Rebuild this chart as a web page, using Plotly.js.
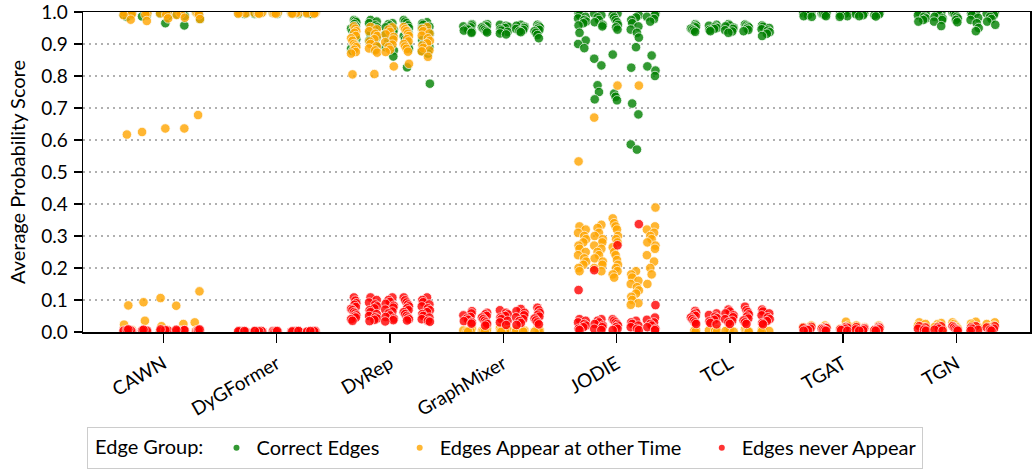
<!DOCTYPE html>
<html>
<head>
<meta charset="utf-8">
<script src="https://cdn.plot.ly/plotly-3.0.1.min.js"></script>
<style>html,body{margin:0;padding:0;background:#fff;}#chart{width:1033px;height:471px;}</style>
</head>
<body>
<div id="chart"></div>
<script>
// ---------------- DATA ----------------
const models = ["CAWN", "DyGFormer", "DyRep", "GraphMixer", "JODIE", "TCL", "TGAT", "TGN"];
const groupNames = ["Correct Edges", "Edges Appear at other Time", "Edges never Appear"];

// each model: 5 sub-groups (runs) of average probability scores
const CAWN_correct = [
  [0.998, 0.996, 0.994, 0.992, 0.99, 0.985],
  [0.998, 0.996, 0.993, 0.99, 0.986],
  [0.998, 0.995, 0.992, 0.988, 0.965],
  [0.998, 0.995, 0.992, 0.988, 0.958],
  [0.998, 0.995, 0.99, 0.978]
];
const CAWN_appear = [
  [0.999, 0.996, 0.993, 0.99, 0.976, 0.617, 0.083, 0.023, 0.006, 0.003],
  [0.999, 0.996, 0.992, 0.972, 0.625, 0.093, 0.035, 0.005, 0.002],
  [0.999, 0.996, 0.992, 0.98, 0.636, 0.106, 0.018, 0.006, 0.002],
  [0.999, 0.995, 0.991, 0.982, 0.636, 0.082, 0.025, 0.005, 0.002],
  [0.999, 0.995, 0.992, 0.978, 0.678, 0.127, 0.03, 0.005, 0.002]
];
const CAWN_never = [
  [0.001, 0.002, 0.003, 0.004, 0.005, 0.006, 0.008],
  [0.001, 0.002, 0.003, 0.004, 0.005, 0.007],
  [0.001, 0.002, 0.003, 0.004, 0.006, 0.008],
  [0.001, 0.002, 0.003, 0.005, 0.006, 0.007],
  [0.001, 0.002, 0.003, 0.004, 0.006, 0.008]
];

const DyGFormer_correct = [
  [0.999, 0.998, 0.997, 0.996, 0.995, 0.994],
  [0.999, 0.998, 0.997, 0.996, 0.995, 0.994],
  [0.999, 0.998, 0.997, 0.996, 0.995, 0.994],
  [0.999, 0.998, 0.997, 0.996, 0.995, 0.994],
  [0.999, 0.998, 0.997, 0.996, 0.995, 0.994]
];
const DyGFormer_appear = [
  [0.999, 0.998, 0.997, 0.996, 0.995],
  [0.999, 0.998, 0.997, 0.996, 0.995],
  [0.999, 0.998, 0.997, 0.996, 0.995],
  [0.999, 0.998, 0.997, 0.996, 0.995],
  [0.999, 0.998, 0.997, 0.996, 0.995]
];
const DyGFormer_never = [
  [0.001, 0.002, 0.003, 0.001, 0.002, 0.003],
  [0.001, 0.002, 0.003, 0.001, 0.002, 0.003],
  [0.001, 0.002, 0.003, 0.001, 0.002, 0.003],
  [0.001, 0.002, 0.003, 0.001, 0.002, 0.003],
  [0.001, 0.002, 0.003, 0.001, 0.002, 0.003]
];

const DyRep_correct = [
  [0.975, 0.972, 0.968, 0.962, 0.955, 0.948, 0.94, 0.932, 0.925, 0.915, 0.905, 0.895, 0.885, 0.878],
  [0.975, 0.97, 0.965, 0.958, 0.952, 0.945, 0.938, 0.93, 0.92, 0.91, 0.9, 0.89, 0.882],
  [0.965, 0.962, 0.958, 0.952, 0.945, 0.938, 0.93, 0.92, 0.91, 0.9, 0.89, 0.88, 0.861],
  [0.975, 0.97, 0.965, 0.958, 0.95, 0.942, 0.935, 0.925, 0.915, 0.905, 0.895, 0.885, 0.827],
  [0.968, 0.964, 0.96, 0.954, 0.948, 0.94, 0.932, 0.922, 0.912, 0.9, 0.89, 0.878, 0.87, 0.776]
];
const DyRep_appear = [
  [0.955, 0.948, 0.94, 0.935, 0.925, 0.918, 0.91, 0.9, 0.895, 0.89, 0.882, 0.875, 0.87, 0.805],
  [0.953, 0.946, 0.94, 0.932, 0.925, 0.915, 0.908, 0.9, 0.893, 0.886, 0.88, 0.873, 0.806],
  [0.952, 0.945, 0.938, 0.93, 0.922, 0.914, 0.906, 0.898, 0.89, 0.882, 0.875, 0.83],
  [0.953, 0.946, 0.94, 0.932, 0.925, 0.915, 0.908, 0.9, 0.892, 0.885, 0.876, 0.838],
  [0.953, 0.947, 0.94, 0.933, 0.926, 0.918, 0.91, 0.902, 0.895, 0.888, 0.88, 0.877, 0.86]
];
const DyRep_never = [
  [0.108, 0.098, 0.09, 0.085, 0.078, 0.072, 0.068, 0.062, 0.058, 0.052, 0.048, 0.045, 0.04, 0.035],
  [0.108, 0.1, 0.092, 0.086, 0.08, 0.074, 0.068, 0.062, 0.056, 0.05, 0.046, 0.042, 0.038, 0.034],
  [0.108, 0.1, 0.094, 0.088, 0.082, 0.076, 0.07, 0.064, 0.058, 0.052, 0.047, 0.042, 0.037, 0.033],
  [0.108, 0.099, 0.092, 0.086, 0.08, 0.074, 0.068, 0.062, 0.056, 0.05, 0.045, 0.04, 0.036],
  [0.108, 0.1, 0.093, 0.086, 0.08, 0.074, 0.068, 0.062, 0.056, 0.05, 0.045, 0.04, 0.035, 0.032]
];

const GraphMixer_correct = [
  [0.962, 0.958, 0.955, 0.952, 0.948, 0.945, 0.942, 0.938, 0.935],
  [0.962, 0.958, 0.955, 0.952, 0.948, 0.944, 0.94, 0.936],
  [0.96, 0.957, 0.954, 0.95, 0.946, 0.942, 0.938, 0.933, 0.93],
  [0.96, 0.957, 0.954, 0.95, 0.947, 0.944, 0.94, 0.937],
  [0.96, 0.956, 0.952, 0.948, 0.944, 0.94, 0.935, 0.928, 0.918]
];
const GraphMixer_appear = [
  [0.012, 0.008, 0.005, 0.003, 0.002, 0.001],
  [0.01, 0.008, 0.005, 0.003, 0.002, 0.001],
  [0.012, 0.009, 0.006, 0.003, 0.002, 0.001],
  [0.011, 0.008, 0.005, 0.003, 0.002, 0.001],
  [0.012, 0.008, 0.005, 0.003, 0.002, 0.001]
];
const GraphMixer_never = [
  [0.065, 0.058, 0.052, 0.047, 0.042, 0.038, 0.034, 0.03, 0.026],
  [0.06, 0.055, 0.05, 0.045, 0.04, 0.035, 0.03, 0.025, 0.02],
  [0.068, 0.06, 0.055, 0.05, 0.045, 0.04, 0.035, 0.03, 0.022],
  [0.072, 0.065, 0.06, 0.052, 0.046, 0.04, 0.034, 0.028, 0.022],
  [0.076, 0.068, 0.06, 0.054, 0.048, 0.042, 0.036, 0.03, 0.024]
];

const JODIE_correct = [
  [0.995, 0.99, 0.985, 0.98, 0.975, 0.97, 0.965, 0.958, 0.935, 0.911, 0.9, 0.887],
  [0.995, 0.99, 0.983, 0.975, 0.968, 0.96, 0.955, 0.854, 0.833, 0.771, 0.75, 0.727],
  [0.995, 0.99, 0.983, 0.975, 0.968, 0.96, 0.952, 0.945, 0.867, 0.745, 0.735, 0.724],
  [0.99, 0.983, 0.975, 0.965, 0.955, 0.945, 0.935, 0.92, 0.89, 0.826, 0.714, 0.68, 0.586, 0.57],
  [0.995, 0.99, 0.985, 0.978, 0.97, 0.864, 0.83, 0.817, 0.8]
];
const JODIE_appear = [
  [0.533, 0.33, 0.32, 0.31, 0.3, 0.29, 0.28, 0.27, 0.26, 0.25, 0.24, 0.23, 0.22, 0.21, 0.2, 0.19],
  [0.67, 0.335, 0.325, 0.31, 0.3, 0.29, 0.28, 0.27, 0.26, 0.25, 0.24, 0.23, 0.22, 0.21, 0.2, 0.19],
  [0.77, 0.355, 0.34, 0.33, 0.32, 0.3, 0.29, 0.28, 0.265, 0.25, 0.24, 0.225, 0.21, 0.2, 0.19, 0.18, 0.17],
  [0.77, 0.19, 0.18, 0.17, 0.16, 0.15, 0.14, 0.13, 0.12, 0.11, 0.1, 0.09, 0.085],
  [0.389, 0.33, 0.32, 0.31, 0.3, 0.29, 0.28, 0.27, 0.26, 0.24, 0.22, 0.2, 0.18, 0.15]
];
const JODIE_never = [
  [0.131, 0.04, 0.035, 0.03, 0.025, 0.02, 0.015, 0.01, 0.006],
  [0.193, 0.04, 0.035, 0.03, 0.025, 0.02, 0.015, 0.01, 0.006],
  [0.271, 0.04, 0.035, 0.03, 0.025, 0.02, 0.015, 0.01, 0.006],
  [0.337, 0.035, 0.03, 0.025, 0.02, 0.015, 0.01, 0.006],
  [0.084, 0.045, 0.038, 0.03, 0.025, 0.02, 0.015, 0.01, 0.006]
];

const TCL_correct = [
  [0.962, 0.958, 0.955, 0.952, 0.948, 0.945, 0.942, 0.938],
  [0.96, 0.957, 0.954, 0.95, 0.947, 0.944, 0.94],
  [0.962, 0.958, 0.955, 0.951, 0.947, 0.943, 0.939, 0.935],
  [0.961, 0.958, 0.955, 0.952, 0.948, 0.944, 0.94],
  [0.958, 0.954, 0.95, 0.946, 0.942, 0.937, 0.932, 0.925]
];
const TCL_appear = [
  [0.008, 0.005, 0.003, 0.001],
  [0.008, 0.005, 0.003, 0.001],
  [0.008, 0.005, 0.003, 0.001],
  [0.008, 0.005, 0.003, 0.001],
  [0.008, 0.005, 0.003, 0.001]
];
const TCL_never = [
  [0.066, 0.06, 0.055, 0.05, 0.045, 0.04, 0.035, 0.03, 0.025],
  [0.058, 0.053, 0.048, 0.043, 0.038, 0.033, 0.028, 0.024],
  [0.07, 0.064, 0.058, 0.052, 0.046, 0.04, 0.035, 0.03, 0.025],
  [0.079, 0.068, 0.062, 0.055, 0.048, 0.042, 0.036, 0.03, 0.025],
  [0.07, 0.064, 0.058, 0.052, 0.046, 0.04, 0.034, 0.028, 0.024]
];

const TGAT_correct = [
  [0.999, 0.997, 0.995, 0.993, 0.99, 0.987, 0.985],
  [0.999, 0.997, 0.995, 0.993, 0.99, 0.987],
  [0.999, 0.997, 0.995, 0.993, 0.99, 0.987, 0.985],
  [0.999, 0.997, 0.995, 0.993, 0.99, 0.987],
  [0.999, 0.997, 0.995, 0.993, 0.99, 0.986]
];
const TGAT_appear = [
  [0.02, 0.015, 0.012, 0.008, 0.005],
  [0.02, 0.015, 0.012, 0.008, 0.005],
  [0.032, 0.02, 0.015, 0.01, 0.005],
  [0.02, 0.015, 0.012, 0.008, 0.005],
  [0.02, 0.015, 0.012, 0.008, 0.005]
];
const TGAT_never = [
  [0.016, 0.013, 0.01, 0.008, 0.006, 0.004],
  [0.014, 0.012, 0.01, 0.008, 0.006, 0.004],
  [0.016, 0.013, 0.01, 0.008, 0.006, 0.004],
  [0.015, 0.012, 0.01, 0.008, 0.006, 0.004],
  [0.016, 0.013, 0.01, 0.008, 0.006, 0.004]
];

const TGN_correct = [
  [0.998, 0.995, 0.99, 0.985, 0.98, 0.975, 0.97],
  [0.998, 0.995, 0.99, 0.985, 0.98, 0.975, 0.97, 0.956],
  [0.998, 0.995, 0.99, 0.985, 0.98, 0.975, 0.968],
  [0.998, 0.995, 0.99, 0.982, 0.975, 0.965, 0.95, 0.94],
  [0.998, 0.995, 0.99, 0.985, 0.978, 0.97, 0.96]
];
const TGN_appear = [
  [0.03, 0.025, 0.02, 0.015, 0.01],
  [0.028, 0.024, 0.02, 0.015, 0.01],
  [0.03, 0.025, 0.02, 0.015, 0.01],
  [0.032, 0.026, 0.02, 0.015, 0.01],
  [0.03, 0.025, 0.02, 0.015, 0.01]
];
const TGN_never = [
  [0.018, 0.014, 0.01, 0.007, 0.004],
  [0.018, 0.014, 0.01, 0.007, 0.004],
  [0.018, 0.014, 0.01, 0.007, 0.004],
  [0.018, 0.014, 0.01, 0.007, 0.004],
  [0.018, 0.014, 0.01, 0.007, 0.004]
];

const correctEdges = [CAWN_correct, DyGFormer_correct, DyRep_correct, GraphMixer_correct, JODIE_correct, TCL_correct, TGAT_correct, TGN_correct];
const appearEdges  = [CAWN_appear, DyGFormer_appear, DyRep_appear, GraphMixer_appear, JODIE_appear, TCL_appear, TGAT_appear, TGN_appear];
const neverEdges   = [CAWN_never, DyGFormer_never, DyRep_never, GraphMixer_never, JODIE_never, TCL_never, TGAT_never, TGN_never];

// ---------------- STYLE / LAYOUT ----------------
const groupColors = ["#008000", "#FFA500", "#FF0000"];
const subOffsets = [-0.31, -0.155, 0, 0.155, 0.31];       // dodge position of the 5 sub-groups
const jitterPattern = [-0.9, 0.4, -0.2, 0.8, -0.6, 0.1, 0.7, -0.4, 0.3, -1.0, 0.9, -0.1, 0.5, -0.7, 0.2, -0.3, 0.6, -0.8, 0.0, 1.0, -0.5];
const jitterWidth = 0.042;
const FONT = "Lato, 'Open Sans', sans-serif";
const NB = "\u00a0";

function buildTrace(groupData, gi) {
  const xs = [], ys = [];
  groupData.forEach((subs, mi) => {
    subs.forEach((vals, si) => {
      vals.forEach((v, k) => {
        xs.push(mi + subOffsets[si] + jitterPattern[(k * 3 + si * 5 + mi) % jitterPattern.length] * jitterWidth);
        ys.push(v);
      });
    });
  });
  return {
    type: "scatter", mode: "markers", x: xs, y: ys, name: groupNames[gi],
    showlegend: false, cliponaxis: true, hoverinfo: "y",
    marker: { size: 9.5, color: groupColors[gi], opacity: 0.8, line: { color: "#ffffff", width: 0.8 } }
  };
}

const traces = [buildTrace(correctEdges, 0), buildTrace(appearEdges, 1), buildTrace(neverEdges, 2)];
// legend entries
groupNames.forEach((n, gi) => {
  traces.push({
    type: "scatter", mode: "markers", x: [null], y: [null],
    name: n + (gi < groupNames.length - 1 ? NB + NB + NB : ""), showlegend: true,
    marker: { size: 6, color: groupColors[gi], opacity: 0.8 }
  });
});

const layout = {
  width: 1033, height: 471,
  margin: { l: 83, r: 3, t: 12, b: 139 },
  paper_bgcolor: "#ffffff", plot_bgcolor: "#ffffff",
  font: { family: FONT, size: 19, color: "#000000" },
  showlegend: true,
  xaxis: {
    type: "linear", range: [-0.71, 7.65], automargin: false,
    tickmode: "array", tickvals: models.map((m, i) => i), ticktext: models,
    tickangle: -30, ticks: "outside", ticklen: 9, tickwidth: 1.5, tickcolor: "#000",
    ticklabelstandoff: 3, ticklabeloverflow: "allow",
    showgrid: false, zeroline: false,
    showline: true, linecolor: "#000", linewidth: 1.5, mirror: true,
    tickfont: { family: FONT, size: 19 }
  },
  yaxis: {
    range: [0, 1], dtick: 0.1, tick0: 0, tickformat: ".1f", automargin: false,
    ticks: "outside", ticklen: 8, tickwidth: 1.5, tickcolor: "#000",
    ticklabelstandoff: 2, ticklabeloverflow: "allow",
    showgrid: true, gridcolor: "#b0b0b0", gridwidth: 1.5, griddash: "2px,4px",
    zeroline: false, showline: true, linecolor: "#000", linewidth: 1.5, mirror: true,
    tickfont: { family: FONT, size: 19 },
    title: { text: "Average Probability Score", font: { family: FONT, size: 20 }, standoff: 10 }
  },
  legend: {
    orientation: "h", xref: "container", yref: "container",
    x: 0.084, xanchor: "left", y: 0.0935, yanchor: "top",
    bordercolor: "#cccccc", borderwidth: 1.2,
    font: { family: FONT, size: 20 },
    title: { text: NB + "Edge Group:" + NB, side: "left", font: { family: FONT, size: 20 } },
    itemsizing: "trace", tracegroupgap: 0
  }
};

Plotly.newPlot("chart", traces, layout, { displayModeBar: false, staticPlot: true });
</script>
</body>
</html>
